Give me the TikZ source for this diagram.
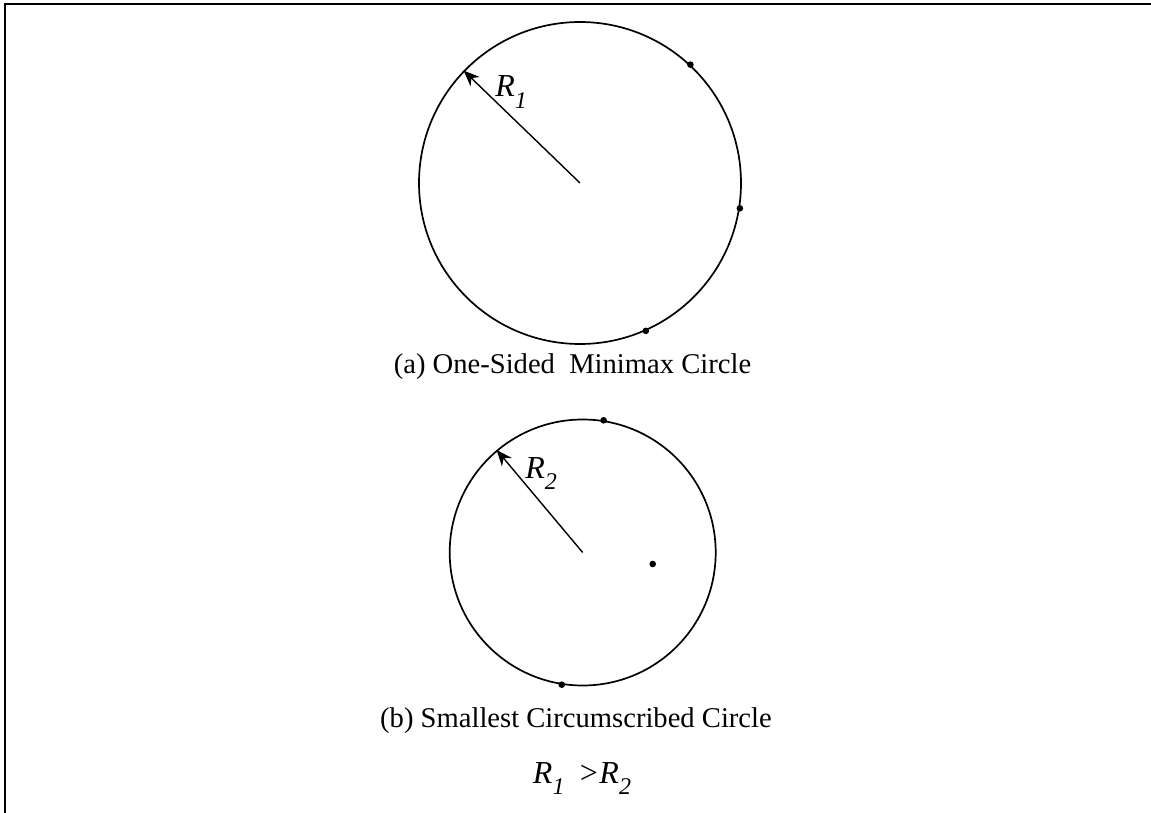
\documentclass[tikz,border=0pt]{standalone}
\usepackage{fontspec}
\setmainfont{Liberation Serif}
\usetikzlibrary{arrows.meta}
\newcommand\lowsub[1]{\raisebox{-0.36em}{\fontsize{12}{14}\selectfont #1}}
\begin{document}
\begin{tikzpicture}[x=0.5pt,y=-0.5pt,
  frame/.style={line width=1.4pt},
  ring/.style={draw,circle,line width=0.85pt,inner sep=0pt},
  radiusarrow/.style={line width=0.7pt,-{Stealth[length=8pt,width=6.5pt]}},
  dotmark/.style={circle,fill,inner sep=0pt,minimum size=3.3pt},
  caption/.style={anchor=base,font=\fontsize{14.3}{17}\selectfont,inner sep=0pt},
  rlabel/.style={anchor=base west,font=\fontsize{16}{19}\selectfont\itshape,inner sep=0pt}]
\useasboundingbox (0,0) rectangle (1151,813);
% frame
\coordinate (fA) at (5,813);
\coordinate (fB) at (5,4);
\coordinate (fC) at (1151,4);
\draw[frame] (fA) -- (fB) -- (fC);
% circle (a)
\coordinate (c1) at (580,183);
\node[ring,minimum size=161pt] (C1) at (c1) {};
\draw[radiusarrow] (c1) -- (C1.136);
\node[rlabel] (r1) at (495,97) {R\lowsub{1}};
\node[dotmark] (d1a) at (C1.47) {};
\node[dotmark] (d1b) at (C1.-9.3) {};
\node[dotmark] (d1c) at (C1.-66) {};
\node[caption] (capa) at (572.5,373) {(a) One-Sided\ \ Minimax Circle};
% circle (b)
\coordinate (c2) at (582.7,552.5);
\node[ring,minimum size=133pt] (C2) at (c2) {};
\draw[radiusarrow] (c2) -- (C2.130);
\node[rlabel] (r2) at (525,478) {R\lowsub{2}};
\node[dotmark] (d2a) at (C2.81) {};
\node[dotmark] (d2b) at (652.7,564) {};
\node[dotmark] (d2c) at (C2.-99.3) {};
\node[caption] (capb) at (576,727) {(b) Smallest Circumscribed Circle};
% relation
\node[rlabel,anchor=base] (rel) at (582,783) {R\lowsub{1}\ \,>R\lowsub{2}};
\end{tikzpicture}
\end{document}
